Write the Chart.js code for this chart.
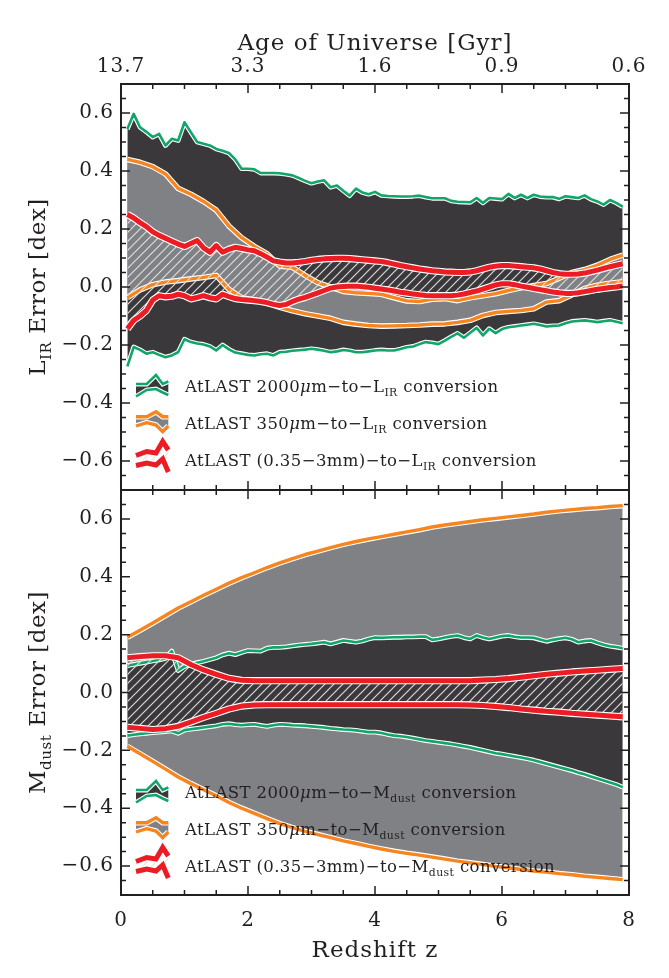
<!DOCTYPE html>
<html><head><meta charset="utf-8">
<script src="https://cdn.jsdelivr.net/npm/chart.js@4.4.1/dist/chart.umd.min.js"></script>
<style>
html,body{margin:0;padding:0;background:#fff;}
#wrap{position:relative;width:669px;height:978px;overflow:hidden;background:#fff;}
canvas{position:absolute;left:0;}
#cA{top:0;} #cB{top:460px;}
</style></head><body>
<div id="wrap"><canvas id="cA" width="669" height="520"></canvas><canvas id="cB" width="669" height="518"></canvas></div>
<script>
// ---------------- data ----------------
const zFine = [0.1,0.2,0.3,0.4,0.5,0.6,0.7,0.8,0.9,1.0,1.1,1.2,1.3,1.4,1.5,1.6,1.7,1.8,1.9,2.0,
 2.1,2.2,2.3,2.4,2.5,2.6,2.7,2.8,2.9,3.0,3.1,3.2,3.3,3.4,3.5,3.6,3.7,3.8,3.9,4.0,
 4.1,4.2,4.3,4.4,4.5,4.6,4.7,4.8,4.9,5.0,5.1,5.2,5.3,5.4,5.5,5.6,5.7,5.8,5.9,6.0,
 6.1,6.2,6.3,6.4,6.5,6.6,6.7,6.8,6.9,7.0,7.1,7.2,7.3,7.4,7.5,7.6,7.7,7.8,7.9];
const zCoarse = [0.1,0.3,0.5,0.7,0.9,1.1,1.3,1.5,1.7,1.9,2.1,2.3,2.5,2.7,2.9,3.1,3.3,3.5,3.7,3.9,
 4.1,4.3,4.5,4.7,4.9,5.1,5.3,5.5,5.7,5.9,6.1,6.3,6.5,6.7,6.9,7.1,7.3,7.5,7.7,7.9];

// Top panel: L_IR error
const lirGreenUp = [.545,.597,.551,.535,.517,.528,.488,.511,.505,.568,
 .534,.500,.494,.488,.476,.470,.462,.440,.408,.408,
 .406,.393,.393,.393,.392,.389,.385,.376,.366,.358,
 .364,.368,.344,.350,.332,.315,.339,.326,.320,.328,
 .316,.314,.313,.312,.312,.313,.315,.310,.306,.306,
 .306,.297,.294,.293,.292,.307,.290,.307,.305,.303,
 .321,.307,.318,.307,.318,.312,.310,.310,.304,.313,
 .310,.307,.316,.303,.295,.284,.300,.290,.277];
const lirGreenLo = [-.274,-.207,-.217,-.230,-.225,-.234,-.242,-.236,-.225,-.180,
 -.190,-.195,-.198,-.205,-.219,-.200,-.215,-.226,-.230,-.234,
 -.236,-.232,-.230,-.236,-.225,-.223,-.220,-.218,-.216,-.213,
 -.216,-.220,-.225,-.222,-.217,-.220,-.225,-.225,-.222,-.219,
 -.217,-.219,-.219,-.214,-.208,-.205,-.197,-.190,-.193,-.197,
 -.185,-.172,-.160,-.175,-.158,-.141,-.167,-.144,-.159,-.145,
 -.139,-.136,-.133,-.130,-.127,-.131,-.136,-.134,-.133,-.125,
 -.119,-.117,-.115,-.118,-.121,-.118,-.115,-.120,-.125];
const lirOrangeUp = [.440,.430,.415,.390,.340,.320,.295,.265,.210,.170,
 .140,.115,.072,.068,.040,.015,.000,-.015,-.020,-.022,
 -.025,-.037,-.048,-.050,-.042,-.040,-.047,-.037,-.030,-.023,
 -.012,-.003,.005,.012,.030,.050,.060,.075,.095,.110];
const lirOrangeLo = [-.037,-.010,.008,.017,.022,.028,.033,.040,-.008,-.037,
 -.045,-.055,-.070,-.082,-.092,-.100,-.108,-.122,-.128,-.133,
 -.135,-.134,-.133,-.131,-.128,-.127,-.122,-.115,-.098,-.088,
 -.084,-.081,-.075,-.052,-.047,-.027,-.005,.006,.013,.018];
const lirRedUp = [.250,.238,.222,.208,.190,.178,.168,.158,.148,.140,
 .150,.160,.135,.120,.143,.120,.130,.137,.133,.128,
 .125,.115,.103,.090,.086,.083,.083,.085,.088,.092,
 .095,.097,.098,.099,.099,.098,.096,.094,.092,.090,
 .088,.084,.079,.074,.070,.066,.062,.059,.056,.054,
 .052,.051,.050,.050,.052,.056,.062,.068,.072,.074,
 .074,.072,.070,.068,.066,.062,.056,.050,.046,.044,
 .044,.045,.048,.053,.058,.064,.070,.075,.080];
const lirRedLo = [-.144,-.115,-.100,-.081,-.045,-.030,-.034,-.032,-.025,-.030,
 -.041,-.036,-.030,-.037,-.041,-.025,-.033,-.040,-.043,-.045,
 -.047,-.050,-.054,-.060,-.064,-.060,-.050,-.042,-.036,-.028,
 -.020,-.012,-.004,.000,.002,.003,.003,.001,-.001,-.004,
 -.007,-.010,-.014,-.018,-.021,-.024,-.027,-.029,-.030,-.030,
 -.030,-.030,-.028,-.024,-.019,-.014,-.007,.000,.007,.011,
 .011,.008,.003,-.001,-.005,-.009,-.013,-.017,-.020,-.022,
 -.022,-.020,-.016,-.012,-.008,-.005,-.002,.000,.004];

// Bottom panel: M_dust error
const mdGreenUp = [.093,.097,.101,.105,.109,.113,.118,.143,.076,.090,
 .098,.103,.108,.114,.120,.130,.136,.131,.138,.145,
 .144,.143,.153,.156,.156,.158,.161,.164,.166,.168,
 .171,.174,.168,.174,.180,.177,.174,.178,.185,.190,
 .189,.190,.191,.191,.192,.192,.193,.193,.182,.185,
 .190,.194,.197,.190,.185,.197,.190,.185,.190,.195,
 .197,.193,.190,.190,.189,.183,.177,.182,.186,.189,
 .184,.174,.178,.180,.172,.165,.160,.157,.153];
const mdGreenLo = [-.149,-.146,-.143,-.141,-.139,-.137,-.135,-.133,-.141,-.130,
 -.127,-.124,-.121,-.118,-.115,-.110,-.108,-.111,-.113,-.111,
 -.110,-.114,-.117,-.113,-.110,-.111,-.113,-.114,-.115,-.117,
 -.119,-.121,-.124,-.126,-.128,-.129,-.131,-.134,-.137,-.137,
 -.140,-.145,-.149,-.151,-.154,-.158,-.162,-.166,-.169,-.172,
 -.175,-.178,-.182,-.186,-.190,-.195,-.200,-.205,-.210,-.213,
 -.217,-.221,-.225,-.229,-.234,-.240,-.246,-.252,-.258,-.264,
 -.270,-.277,-.283,-.290,-.297,-.304,-.311,-.318,-.327];
const mdOrangeUp = [.191,.215,.240,.266,.292,.314,.336,.357,.378,.397,
 .414,.432,.448,.463,.477,.489,.501,.512,.522,.531,
 .539,.547,.555,.563,.572,.579,.585,.591,.597,.602,
 .607,.612,.617,.623,.628,.632,.636,.639,.643,.646];
const mdOrangeLo = [-.186,-.212,-.238,-.265,-.292,-.315,-.336,-.357,-.380,-.400,
 -.418,-.436,-.453,-.467,-.480,-.491,-.502,-.513,-.522,-.532,
 -.541,-.549,-.556,-.562,-.569,-.576,-.583,-.589,-.595,-.601,
 -.606,-.612,-.617,-.621,-.626,-.630,-.635,-.639,-.643,-.647];
const mdRedUp = [.120,.124,.127,.127,.120,.097,.078,.063,.049,.042,
 .041,.041,.041,.041,.041,.041,.041,.041,.041,.041,
 .041,.041,.041,.041,.041,.041,.041,.041,.043,.045,
 .048,.053,.058,.063,.067,.071,.074,.077,.080,.083];
const mdRedLo = [-.120,-.124,-.128,-.125,-.117,-.102,-.086,-.072,-.057,-.047,
 -.043,-.042,-.042,-.042,-.042,-.042,-.042,-.042,-.042,-.042,
 -.042,-.042,-.042,-.042,-.042,-.042,-.042,-.043,-.045,-.048,
 -.052,-.057,-.061,-.065,-.068,-.072,-.075,-.078,-.081,-.084];

// tick labels
const zMajor = [0, 2, 4, 6, 8];
const ageLabels = ['13.7', '3.3', '1.6', '0.9', '0.6'];
const zLabels = ['0', '2', '4', '6', '8'];
const yTicks = [-0.6, -0.4, -0.2, 0.0, 0.2, 0.4, 0.6];

// ---------------- style ----------------
const FONT = "'DejaVu Serif', 'Liberation Serif', serif";
const INK = '#231f20';
const COL = {green:'#12a56a', orange:'#f6841f', red:'#ec1c24', dark:'#3a383a', gray:'#808184'};
const LW = {green:2.6, orange:3.4, red:5};

function hatchPattern(ctx) {
  const c = document.createElement('canvas'); c.width = 9; c.height = 9;
  const g = c.getContext('2d');
  g.strokeStyle = 'rgba(226,226,226,0.95)'; g.lineWidth = 1.2;
  g.beginPath();
  g.moveTo(-2, 11); g.lineTo(11, -2);
  g.moveTo(-2, 2); g.lineTo(2, -2);
  g.moveTo(7, 11); g.lineTo(11, 7);
  g.stroke();
  return ctx.createPattern(c, 'repeat');
}
function pts(zs, vs) { return zs.map((z, i) => ({x: z, y: vs[i]})); }
function band(zs, up, lo, color, fillColor, lw, idx, ord) {
  return [
    {data: pts(zs, up), borderColor: color, borderWidth: lw, backgroundColor: fillColor,
     fill: {target: idx + 1}, order: ord + 1, outline: true},
    {data: pts(zs, lo), borderColor: color, borderWidth: lw, backgroundColor: 'rgba(0,0,0,0)',
     fill: false, order: ord, outline: true}
  ];
}
function fmt(v) { return (v < -1e-9 ? '\u2212' : '') + Math.abs(v).toFixed(1); }

function setFont(ctx, size, it) { ctx.font = (it ? 'italic ' : '') + size + 'px ' + FONT; }
function partsWidth(ctx, parts, size, ls) {
  let w = 0;
  for (const p of parts) {
    setFont(ctx, p.sub ? size * 0.66 : size, p.it); ctx.letterSpacing = ls + 'px';
    w += ctx.measureText(p.t).width;
  }
  return w;
}
function drawParts(ctx, parts, x, y, size, ls) {
  ctx.fillStyle = INK; ctx.textAlign = 'left'; ctx.textBaseline = 'alphabetic';
  for (const p of parts) {
    setFont(ctx, p.sub ? size * 0.66 : size, p.it); ctx.letterSpacing = ls + 'px';
    ctx.fillText(p.t, x, y + (p.sub ? size * 0.24 : 0));
    x += ctx.measureText(p.t).width;
  }
}

// legend glyph shapes (offsets from row centre)
const iconDX = [0, 10.7, 20, 26.7, 32.3];
const iconShapes = [
  {up: [-2, -2, -11, -2, -4.5], lo: [10.5, 4, 3, 6.5, 9]},
  {up: [-6.3, -6.3, -11.3, -6.3, -6.3], lo: [3, -0.3, 2, 8.7, 3]},
  {up: [-4.5, -8.5, -7, -18.5, -10], lo: [5.5, 3, 5, -1, 12]}
];

function decorPlugin(yTitle, legendTexts, fills) {
  return {
    id: 'decor',
    beforeDraw(chart) { chart.ctx.letterSpacing = '1px'; },
    beforeDatasetDraw(chart, args) {
      const ds = chart.data.datasets[args.index];
      if (!ds.outline) return;
      const ctx = chart.ctx, a = chart.chartArea;
      ctx.save();
      ctx.beginPath(); ctx.rect(a.left, a.top, a.right - a.left, a.bottom - a.top); ctx.clip();
      ctx.beginPath();
      args.meta.dataset.path(ctx);
      ctx.lineWidth = ds.borderWidth + 2.2; ctx.strokeStyle = '#ffffff'; ctx.lineJoin = 'round';
      ctx.stroke();
      ctx.restore();
    },
    afterDatasetsDraw(chart) {
      const ctx = chart.ctx, a = chart.chartArea;
      const colors = [COL.green, COL.orange, COL.red], lws = [LW.green, LW.orange, LW.red];
      const rowY = [302, 339, 376];
      ctx.save();
      for (let r = 0; r < 3; r++) {
        const cy = a.top + rowY[r], x0 = 136;
        const sh = iconShapes[r];
        ctx.beginPath();
        iconDX.forEach((dx, i) => { const f = i ? 'lineTo' : 'moveTo'; ctx[f](x0 + dx, cy + sh.up[i]); });
        for (let i = iconDX.length - 1; i >= 0; i--) ctx.lineTo(x0 + iconDX[i], cy + sh.lo[i]);
        ctx.closePath(); ctx.fillStyle = fills[r]; ctx.fill();
        for (const key of ['up', 'lo']) {
          for (const pass of [0, 1]) {
            ctx.beginPath();
            iconDX.forEach((dx, i) => { const f = i ? 'lineTo' : 'moveTo'; ctx[f](x0 + dx, cy + sh[key][i]); });
            ctx.lineJoin = 'miter';
            ctx.lineWidth = pass ? lws[r] : lws[r] + 2.2;
            ctx.strokeStyle = pass ? colors[r] : '#ffffff';
            ctx.stroke();
          }
        }
        drawParts(ctx, legendTexts[r], 185, cy + 6, 16.5, 0.4);
      }
      ctx.restore();
    },
    afterDraw(chart) {
      const ctx = chart.ctx, a = chart.chartArea;
      const xs = chart.scales.x, ys = chart.scales.y;
      ctx.save();
      ctx.letterSpacing = '0px';
      ctx.strokeStyle = INK; ctx.lineWidth = 1.5;
      ctx.beginPath();
      for (let k = 1; k < 16; k++) {
        const px = xs.getPixelForValue(k * 0.5), L = (k % 4 === 0) ? 9 : 5;
        ctx.moveTo(px, a.top); ctx.lineTo(px, a.top + L);
        ctx.moveTo(px, a.bottom); ctx.lineTo(px, a.bottom - L);
      }
      for (let k = -13; k <= 13; k++) {
        const py = ys.getPixelForValue(k * 0.05), L = (k % 4 === 0) ? 9 : 5;
        ctx.moveTo(a.left, py); ctx.lineTo(a.left + L, py);
        ctx.moveTo(a.right, py); ctx.lineTo(a.right - L, py);
      }
      ctx.stroke();
      ctx.lineWidth = 2;
      ctx.strokeRect(a.left, a.top, a.right - a.left, a.bottom - a.top);
      // y title
      const size = 23, w = partsWidth(ctx, yTitle, size, 0.5);
      ctx.translate(37, (a.top + a.bottom) / 2);
      ctx.rotate(-Math.PI / 2);
      drawParts(ctx, yTitle, -w / 2, size * 0.36, size, 0.5);
      ctx.restore();
      ctx.letterSpacing = '0px';
    }
  };
}

function makeChart(canvasId, sets, opts) {
  const ctx = document.getElementById(canvasId).getContext('2d');
  const hatch = hatchPattern(ctx);
  const o = opts.order;
  const datasets = [
    ...band(sets.zg, sets.gUp, sets.gLo, COL.green, COL.dark, LW.green, 0, o.g),
    ...band(sets.zo, sets.oUp, sets.oLo, COL.orange, COL.gray, LW.orange, 2, o.o),
    ...band(sets.zr, sets.rUp, sets.rLo, COL.red, hatch, LW.red, 4, o.r)
  ];
  const tickFont = {family: FONT, size: 20};
  return new Chart(ctx, {
    type: 'line',
    data: {datasets},
    options: {
      responsive: false, animation: false, devicePixelRatio: 1,
      layout: {padding: 0},
      elements: {point: {radius: 0, hoverRadius: 0}, line: {tension: 0, borderJoinStyle: 'round'}},
      plugins: {legend: {display: false}, tooltip: {enabled: false}},
      events: [],
      scales: {
        x: {type: 'linear', position: 'bottom', min: 0, max: 8,
            grid: {display: false, drawTicks: false}, border: {display: false},
            afterBuildTicks: s => { s.ticks = zMajor.map(v => ({value: v})); },
            ticks: {display: opts.bottomLabels, autoSkip: false, maxRotation: 0, padding: 14, color: INK, font: tickFont,
                    callback: (v, i) => zLabels[i]},
            title: {display: opts.bottomLabels, text: 'Redshift z', color: INK,
                    font: {family: FONT, size: 23}, padding: {top: 0, bottom: 13}},
            afterFit: s => { s.height = opts.bottomH; }},
        xt: {type: 'linear', position: 'top', min: 0, max: 8,
             grid: {display: false, drawTicks: false}, border: {display: false},
             afterBuildTicks: s => { s.ticks = zMajor.map(v => ({value: v})); },
             ticks: {display: opts.topLabels, autoSkip: false, maxRotation: 0, padding: 5, color: INK, font: tickFont,
                     callback: (v, i) => ageLabels[i]},
             title: {display: opts.topLabels, text: 'Age of Universe [Gyr]', color: INK,
                     font: {family: FONT, size: 23}, padding: {top: 30, bottom: 0}},
             afterFit: s => { s.height = opts.topH; }},
        y: {type: 'linear', position: 'left', min: -0.7, max: 0.7,
            grid: {display: false, drawTicks: false}, border: {display: false},
            afterBuildTicks: s => { s.ticks = yTicks.map(v => ({value: v})); },
            ticks: {autoSkip: false, padding: 7, color: INK, font: tickFont, callback: v => fmt(v)},
            afterFit: s => { s.width = 121; }},
        yr: {type: 'linear', position: 'right', min: -0.7, max: 0.7,
             grid: {display: false, drawTicks: false}, border: {display: false},
             ticks: {display: false}, afterFit: s => { s.width = 40; }}
      }
    },
    plugins: [decorPlugin(opts.yTitle, opts.legend, [COL.dark, COL.gray, hatch])]
  });
}

const mu = {t: '\u03bc', it: true};
// Canvas A: 0..520, plot 84..490.  Canvas B: 460..978, plot 490..895.
makeChart('cA',
  {zg: zFine, gUp: lirGreenUp, gLo: lirGreenLo, zo: zCoarse, oUp: lirOrangeUp, oLo: lirOrangeLo,
   zr: zFine, rUp: lirRedUp, rLo: lirRedLo},
  {topLabels: true, bottomLabels: false, topH: 84, bottomH: 30, order: {g: 5, o: 3, r: 1},
   yTitle: [{t: 'L'}, {t: 'IR', sub: true}, {t: ' Error [dex]'}],
   legend: [
     [{t: 'AtLAST 2000'}, mu, {t: 'm\u2212to\u2212L'}, {t: 'IR', sub: true}, {t: ' conversion'}],
     [{t: 'AtLAST 350'}, mu, {t: 'm\u2212to\u2212L'}, {t: 'IR', sub: true}, {t: ' conversion'}],
     [{t: 'AtLAST (0.35\u22123mm)\u2212to\u2212L'}, {t: 'IR', sub: true}, {t: ' conversion'}]
   ]});
makeChart('cB',
  {zg: zFine, gUp: mdGreenUp, gLo: mdGreenLo, zo: zCoarse, oUp: mdOrangeUp, oLo: mdOrangeLo,
   zr: zCoarse, rUp: mdRedUp, rLo: mdRedLo},
  {topLabels: false, bottomLabels: true, topH: 30, bottomH: 83, order: {g: 3, o: 5, r: 1},
   yTitle: [{t: 'M'}, {t: 'dust', sub: true}, {t: ' Error [dex]'}],
   legend: [
     [{t: 'AtLAST 2000'}, mu, {t: 'm\u2212to\u2212M'}, {t: 'dust', sub: true}, {t: ' conversion'}],
     [{t: 'AtLAST 350'}, mu, {t: 'm\u2212to\u2212M'}, {t: 'dust', sub: true}, {t: ' conversion'}],
     [{t: 'AtLAST (0.35\u22123mm)\u2212to\u2212M'}, {t: 'dust', sub: true}, {t: ' conversion'}]
   ]});
</script>
</body></html>
